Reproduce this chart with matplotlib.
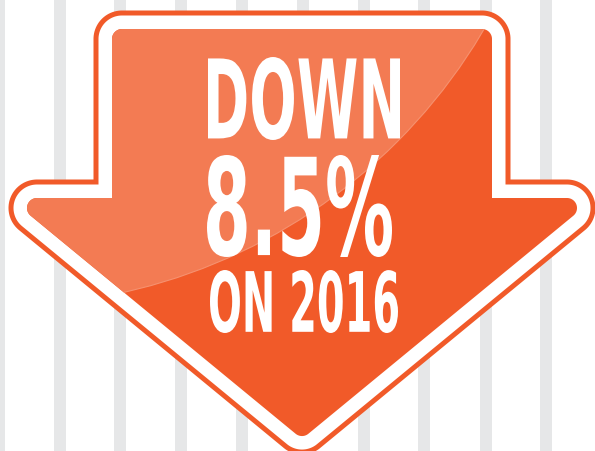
import numpy as np
import matplotlib
matplotlib.use("Agg")
import matplotlib.pyplot as plt
from matplotlib.patches import Polygon, Circle
from matplotlib import patheffects
from matplotlib.transforms import Affine2D

# ---- content -------------------------------------------------------------
headline_lines = ["DOWN", "8.5%", "ON 2016"]
stripe_x = [-1, 60, 120, 181, 242, 303, 364, 424, 486, 546, 607]

# ---- style ---------------------------------------------------------------
DARK = "#f15a29"
LIGHT = "#f37b53"
STRIPE = "#e6e7e8"
W, H = 595, 451
DPI = 100

fig = plt.figure(figsize=(W / DPI, H / DPI), dpi=DPI)
ax = fig.add_axes([0, 0, 1, 1])
ax.set_xlim(0, W)
ax.set_ylim(H, 0)
ax.axis("off")
fig.patch.set_facecolor("white")

# background stripes
ax.bar(stripe_x, H, width=12, bottom=0, color=STRIPE, zorder=0)


def fillet(verts, r, n=24):
    v = np.asarray(verts, float)
    N = len(v)
    area = 0.5 * np.sum(v[:, 0] * np.roll(v[:, 1], -1) - np.roll(v[:, 0], -1) * v[:, 1])
    sgn = np.sign(area)
    out = []
    for i in range(N):
        p0, p1, p2 = v[i - 1], v[i], v[(i + 1) % N]
        d1 = (p1 - p0) / np.linalg.norm(p1 - p0)
        d2 = (p2 - p1) / np.linalg.norm(p2 - p1)
        cross = d1[0] * d2[1] - d1[1] * d2[0]
        if cross * sgn <= 0:
            out.append(p1)
            continue
        theta = np.arccos(np.clip(np.dot(-d1, d2), -1, 1))
        t = r / np.tan(theta / 2)
        t1 = p1 - d1 * t
        t2 = p1 + d2 * t
        bis = (-d1 + d2)
        bis /= np.linalg.norm(bis)
        c = p1 + bis * r / np.sin(theta / 2)
        a1 = np.arctan2(*(t1 - c)[::-1])
        a2 = np.arctan2(*(t2 - c)[::-1])
        da = (a2 - a1 + np.pi) % (2 * np.pi) - np.pi
        angs = a1 + da * np.linspace(0, 1, n)
        out.extend(np.column_stack([c[0] + r * np.cos(angs), c[1] + r * np.sin(angs)]))
    return np.array(out)


# arrow (inner fill outline, sharp corners)
cx = 302
arrow = [(112, 29), (492, 29), (492, 198), (594.9, 198), (cx, 439),
         (2 * cx - 594.9, 198), (112, 198)]
shape = fillet(arrow, 10)

px2pt = 72.0 / DPI
white_w, orange_w = 13.5, 5.0
ax.add_patch(Polygon(shape, closed=True, facecolor=DARK, edgecolor=DARK,
                     lw=2 * (white_w + orange_w) * px2pt, joinstyle="round", zorder=2))
ax.add_patch(Polygon(shape, closed=True, facecolor="white", edgecolor="white",
                     lw=2 * white_w * px2pt, joinstyle="round", zorder=3))
fill = Polygon(shape, closed=True, facecolor=DARK, edgecolor="none", zorder=4)
ax.add_patch(fill)

# glossy highlight
hl = Circle((1, -254), 560, facecolor=LIGHT, edgecolor="#f6916f", lw=0.8, zorder=5)
ax.add_patch(hl)
hl.set_clip_path(fill)


class FitBox(patheffects.AbstractPathEffect):
    """Stretch the rendered glyph path to fill a box given in data coords."""

    def __init__(self, axes, box):
        super().__init__()
        self.axes = axes
        self.box = box

    def draw_path(self, renderer, gc, tpath, affine, rgbFace=None):
        bb = tpath.get_extents(affine)
        x0, x1, y0, y1 = self.box
        p = self.axes.transData.transform([(x0, y0), (x1, y1)])
        tx0, tx1 = sorted(p[:, 0])
        ty0, ty1 = sorted(p[:, 1])
        sx = (tx1 - tx0) / bb.width
        sy = (ty1 - ty0) / bb.height
        new = affine + Affine2D().translate(-bb.x0, -bb.y0).scale(sx, sy).translate(tx0, ty0)
        renderer.draw_path(gc, tpath, new, rgbFace)


boxes = [(208, 400, 57, 140), (207, 392, 155, 257), (210, 398, 270, 333)]
sizes = [60, 74, 46]
for s, box, fs in zip(headline_lines, boxes, sizes):
    t = ax.text((box[0] + box[1]) / 2, box[3], s, ha="center", va="baseline",
                color="white", fontsize=fs, fontweight="bold",
                fontfamily=["DejaVu Sans"], fontstretch="condensed", zorder=6)
    t.set_path_effects([FitBox(ax, box)])

fig.savefig("out.png", dpi=DPI)
